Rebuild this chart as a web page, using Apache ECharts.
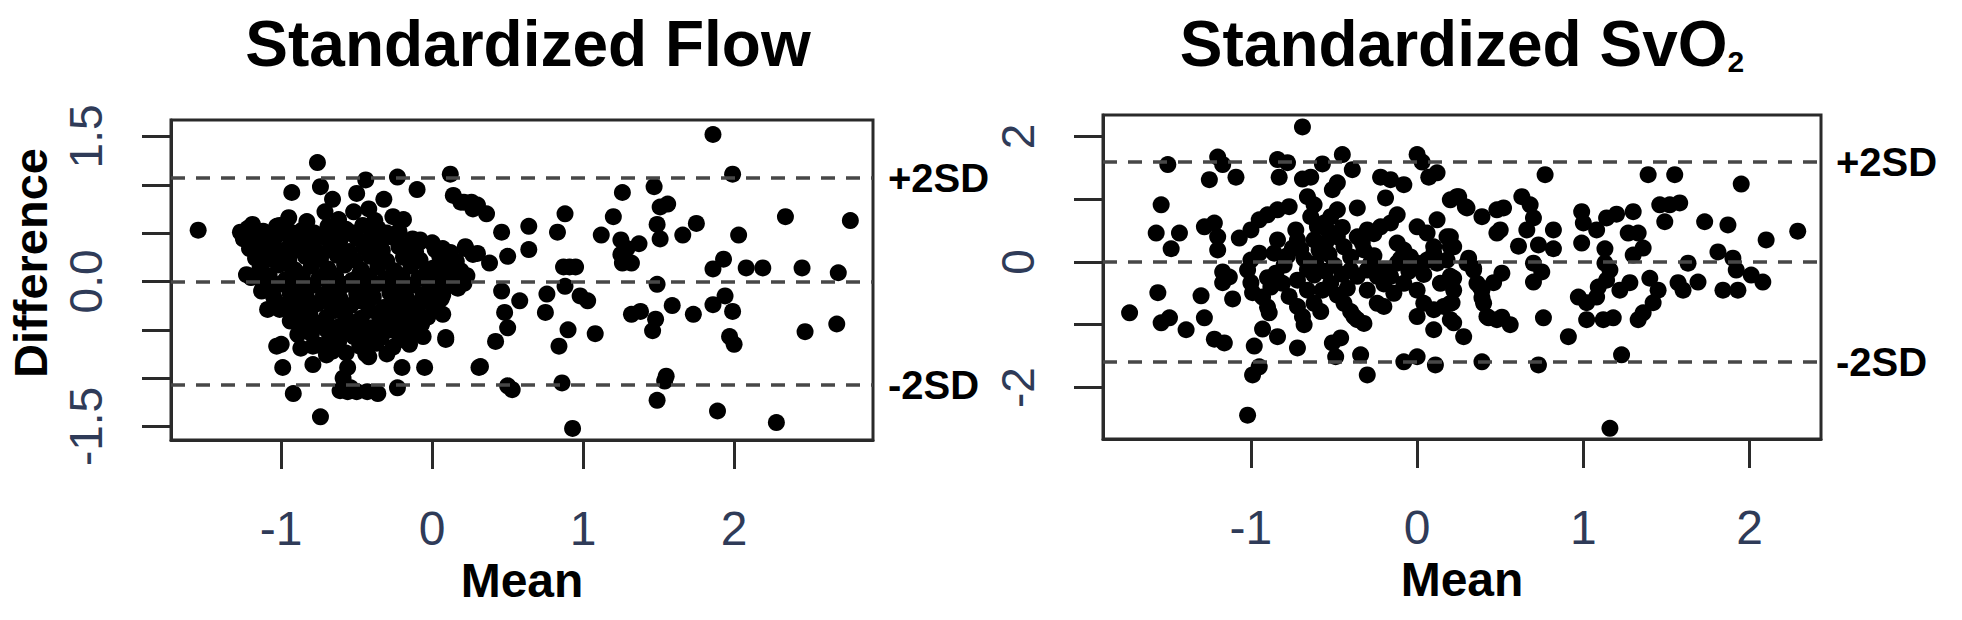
<!DOCTYPE html>
<html>
<head>
<meta charset="utf-8">
<script src="https://cdn.jsdelivr.net/npm/echarts@6/dist/echarts.min.js"></script>
<style>
  html, body { margin: 0; padding: 0; background: #fff; }
  #chart { width: 1962px; height: 620px; }
</style>
</head>
<body>
<div id="chart"></div>
<script>
// Bland-Altman points [mean, difference]
var flowPoints = [
  [-1.55,0.53],[-0.76,1.23],[-0.74,-1.40],[-0.92,-1.16],[-0.99,-0.89],[-1.23,0.07],[-1.13,-0.10],[-1.09,-0.29],
  [-1.01,-0.29],[-1.27,0.51],[-1.19,0.59],[-1.01,0.58],[-1.07,0.43],[-0.93,0.92],[-0.74,0.98],[-0.66,0.85],
  [-0.71,0.72],[-0.50,0.91],[-0.44,1.05],[-0.42,0.75],[-0.32,0.85],[-0.23,1.08],[-0.26,0.67],[-0.19,0.64],
  [-0.10,0.95],[0.12,1.11],[0.14,0.89],[0.21,0.82],[0.27,0.75],[-0.08,0.43],[0.07,0.34],[0.22,0.34],[0.27,0.28],
  [-1.03,-0.67],[-0.89,-0.55],[-0.94,-0.41],[-0.87,-0.69],[-0.79,-0.67],[-0.79,-0.86],[-0.66,-0.72],[-0.56,-0.89],
  [-0.59,-1.0],[-0.54,-1.10],[-0.61,-1.13],[-0.56,-1.14],[-0.50,-1.14],[-0.43,-1.14],[-0.36,-1.16],[-0.52,-0.57],
  [-0.44,-0.75],[-0.34,-0.58],[-0.23,-1.10],[-0.20,-0.89],[-0.05,-0.89],[-0.06,-0.57],[0.09,-0.60],[0.07,-0.34],
  [0.31,-0.89],[-0.17,-0.38],[-0.30,-0.51],
  [-0.83,0.62],[-0.79,0.48],[-0.59,0.48],[-0.52,0.72],[-0.40,0.49],[-0.34,0.41],[-0.21,0.38],[-0.08,0.41],
  [0.01,0.14],[0.10,0.24],[0.14,0.0],[0.21,-0.02],[0.05,-0.14],[-0.08,-0.21],
  [-1.20,0.57],[-1.25,0.44],[-1.03,0.57],[-1.0,-0.65],
  // dense core
  [-1.22,0.55],[-1.12,0.52],[-0.97,0.56],[-0.86,0.53],[-0.69,0.57],[-0.57,0.54],[-0.46,0.58],[-0.36,0.55],[-0.22,0.52],
  [-1.24,0.45],[-1.15,0.42],[-1.04,0.46],[-0.94,0.44],[-0.83,0.41],[-0.72,0.46],[-0.61,0.43],[-0.50,0.45],[-0.39,0.42],[-0.27,0.46],[-0.13,0.44],[0.0,0.40],
  [-1.21,0.34],[-1.10,0.36],[-0.99,0.32],[-0.89,0.37],[-0.78,0.33],[-0.67,0.36],[-0.55,0.31],[-0.45,0.35],[-0.33,0.32],[-0.22,0.36],[-0.11,0.31],[0.02,0.33],[0.12,0.30],
  [-1.17,0.24],[-1.06,0.27],[-0.95,0.22],[-0.84,0.26],[-0.74,0.23],[-0.63,0.27],[-0.51,0.22],[-0.41,0.26],[-0.30,0.21],[-0.19,0.25],[-0.08,0.22],[0.05,0.26],[0.16,0.21],
  [-1.14,0.14],[-1.02,0.17],[-0.91,0.12],[-0.80,0.16],[-0.69,0.13],[-0.58,0.17],[-0.47,0.12],[-0.36,0.15],[-0.25,0.11],[-0.14,0.16],[-0.03,0.12],[0.08,0.15],[0.19,0.11],
  [-1.20,0.04],[-1.08,0.06],[-0.97,0.02],[-0.86,0.07],[-0.75,0.03],[-0.64,0.06],[-0.53,0.01],[-0.42,0.05],[-0.31,0.02],[-0.20,0.06],[-0.09,0.03],[0.02,0.05],[0.13,0.02],[0.23,0.06],
  [-1.12,-0.06],[-1.01,-0.03],[-0.90,-0.07],[-0.79,-0.04],[-0.68,-0.08],[-0.57,-0.03],[-0.46,-0.06],[-0.35,-0.02],[-0.24,-0.07],[-0.13,-0.04],[-0.02,-0.08],[0.10,-0.05],
  [-1.05,-0.16],[-0.94,-0.13],[-0.83,-0.17],[-0.72,-0.14],[-0.61,-0.18],[-0.50,-0.13],[-0.39,-0.16],[-0.28,-0.12],[-0.17,-0.17],[-0.06,-0.14],[0.06,-0.18],
  [-0.98,-0.24],[-0.87,-0.27],[-0.76,-0.23],[-0.64,-0.28],[-0.54,-0.25],[-0.43,-0.22],[-0.32,-0.27],[-0.21,-0.24],[-0.10,-0.28],[0.01,-0.25],
  [-0.92,-0.36],[-0.81,-0.33],[-0.70,-0.37],[-0.58,-0.34],[-0.47,-0.38],[-0.36,-0.33],[-0.25,-0.36],[-0.14,-0.32],[-0.03,-0.37],
  [-0.86,-0.46],[-0.74,-0.43],[-0.62,-0.47],[-0.51,-0.44],[-0.40,-0.48],[-0.29,-0.43],[-0.18,-0.46],[-0.07,-0.44],
  [-0.80,-0.54],[-0.66,-0.57],[-0.55,-0.53],[-0.44,-0.56],[-0.33,-0.52],[-0.22,-0.55],[-0.12,-0.53],
  [-0.75,-0.66],[-0.62,-0.63],[-0.48,-0.67],[-0.37,-0.64],[-0.26,-0.68],[-0.15,-0.65],
  [-0.70,-0.76],[-0.57,-0.74],[-0.42,-0.78],[-0.30,-0.75],
  [-1.17,0.50],[-1.07,0.50],[-0.92,0.50],[-0.78,0.50],[-0.64,0.50],[-0.52,0.50],[-0.30,0.50],
  [-1.16,0.30],[-1.04,0.30],[-0.94,0.29],[-0.73,0.29],[-0.61,0.31],[-0.39,0.30],[-0.17,0.30],[0.07,0.30],
  [-1.12,0.20],[-0.99,0.19],[-0.79,0.20],[-0.57,0.21],[-0.35,0.20],[-0.13,0.20],[0.11,0.19],
  [-1.15,0.09],[-0.92,0.09],[-0.70,0.09],[-0.48,0.08],[-0.26,0.08],[-0.04,0.08],[0.18,0.08],
  [-1.06,-0.10],[-0.84,-0.10],[-0.62,-0.10],[-0.40,-0.10],[-0.18,-0.10],[0.04,-0.10],
  [-0.92,-0.20],[-0.70,-0.20],[-0.48,-0.20],[-0.26,-0.20],[-0.04,-0.20],
  [-0.86,-0.30],[-0.64,-0.30],[-0.42,-0.30],[-0.20,-0.30],
  [-0.80,-0.40],[-0.56,-0.40],[-0.34,-0.40],[-0.12,-0.40],
  [-0.70,-0.50],[-0.50,-0.50],[-0.27,-0.50],
  [-0.68,-0.60],[-0.43,-0.60],[-0.20,-0.60],
  [-0.95,0.66],[-0.62,0.64],[-0.38,0.63],
  // right-hand scatter
  [0.19,0.82],[0.26,0.82],[0.30,0.79],[0.36,0.70],[0.46,0.51],[0.64,0.57],[0.88,0.70],[0.83,0.51],[0.64,0.33],
  [0.50,0.26],[0.22,0.36],[0.30,0.29],[0.38,0.19],[0.09,0.21],[0.07,0.10],[0.10,-0.03],[0.17,-0.07],[0.07,-0.14],
  [0.09,-0.58],[0.46,-0.10],[0.58,-0.20],[0.48,-0.32],[0.50,-0.48],[0.42,-0.62],[0.32,-0.88],[0.50,-1.08],[0.53,-1.12],
  [0.87,0.15],[0.91,0.15],[0.95,0.15],[0.88,-0.05],[0.76,-0.13],[0.75,-0.32],[0.98,-0.15],[1.03,-0.20],[0.90,-0.50],
  [0.84,-0.67],[1.08,-0.54],[0.86,-1.05],[0.93,-1.52],[1.12,0.48],[1.20,0.67],[1.26,0.92],[1.25,0.43],[1.29,0.34],
  [1.37,0.39],[1.25,0.28],[1.26,0.19],[1.32,0.19],[1.47,0.98],[1.51,0.77],[1.56,0.80],[1.49,0.59],[1.51,0.44],
  [1.66,0.48],[1.75,0.60],[1.49,-0.03],[1.32,-0.34],[1.38,-0.31],[1.48,-0.39],[1.46,-0.51],[1.59,-0.25],[1.73,-0.34],
  [1.55,-0.98],[1.54,-1.03],[1.49,-1.23],[1.86,1.52],[1.99,1.11],[2.03,0.48],[1.86,0.13],[1.93,0.23],[1.86,-0.24],
  [1.94,-0.15],[1.99,-0.31],[1.97,-0.57],[2.0,-0.65],[1.89,-1.34],
  [2.34,0.67],[2.19,0.14],[2.45,0.14],[2.69,0.09],[2.77,0.63],[2.47,-0.52],[2.68,-0.44],[2.28,-1.46],[2.08,0.14]
];
var flowLimits = [1.07, 0, -1.07];

var svo2Points = [
  [-0.69,2.15],[-1.50,1.55],[-1.20,1.67],[-1.17,1.55],[-1.25,1.31],[-1.09,1.35],[-0.84,1.63],[-0.78,1.58],[-0.83,1.35],
  [-0.69,1.32],[-0.64,1.35],[-0.57,1.56],[-0.45,1.71],[-0.39,1.47],[-0.48,1.26],[-0.51,1.15],[-0.22,1.35],[-0.16,1.31],
  [-0.08,1.23],[0.0,1.71],[0.03,1.59],[0.07,1.35],[0.12,1.42],[-0.19,1.02],[-0.36,0.86],[-0.12,0.75],[0.20,0.99],
  [0.25,1.04],[0.30,0.86],[0.39,0.72],[-1.54,0.91],[-1.57,0.46],[-1.43,0.46],[-1.48,0.21],[-1.28,0.56],[-1.22,0.62],
  [-1.20,0.40],[-1.20,0.19],[-1.07,0.38],[-1.0,0.51],[-0.95,0.67],[-0.90,0.75],[-0.84,0.83],[-0.77,0.88],[-0.73,0.51],
  [-0.72,0.35],[-0.84,0.35],[-0.86,0.14],[-0.95,0.14],[-1.0,0.03],[-1.02,-0.13],[-1.17,-0.16],[-1.17,-0.33],[-1.13,-0.24],
  [-1.56,-0.49],[-1.30,-0.54],[-1.11,-0.59],[-1.0,-0.33],[-0.99,-0.49],[-0.93,-0.56],[-0.90,-0.72],[-0.89,-0.81],
  [-1.54,-0.97],[-1.49,-0.89],[-1.39,-1.08],[-1.28,-0.89],[-1.22,-1.23],[-1.16,-1.29],[-0.93,-1.07],[-0.84,-1.19],
  [-0.98,-1.34],[-0.95,-1.67],[-0.99,-1.80],[-1.02,-2.44],[-0.72,-1.37],[-0.51,-1.29],[-0.46,-1.21],[-0.49,-1.51],
  [-0.34,-1.48],[-0.30,-1.80],[-0.08,-1.59],[0.0,-1.51],[0.11,-1.64],[0.39,-1.59],[-1.73,-0.81],
  // dense middle
  [-0.85,-0.18],[-0.81,-0.34],[-0.77,-0.55],[-0.72,-0.71],[-0.69,-0.87],[-0.68,-1.0],
  [-0.72,-0.29],[-0.66,-0.45],[-0.62,-0.66],[-0.58,-0.79],
  [-0.66,1.04],[-0.62,0.91],[-0.64,0.72],[-0.60,0.56],[-0.62,0.35],[-0.59,0.19],[-0.61,-0.02],[-0.62,-0.21],
  [-0.54,0.51],[-0.48,0.40],[-0.44,0.24],[-0.40,0.08],[-0.52,0.72],[-0.48,0.83],
  [-0.52,-0.34],[-0.48,-0.53],[-0.44,-0.66],[-0.40,-0.79],[-0.36,-0.92],[-0.38,-0.87],[-0.32,-0.98],
  [-0.36,0.40],[-0.32,0.19],[-0.28,-0.02],[-0.24,-0.23],
  [-0.30,0.51],[-0.22,0.56],[-0.16,0.62],
  [-0.40,-0.13],[-0.36,-0.23],[-0.30,-0.45],[-0.24,-0.66],[-0.20,-0.71],
  [-0.30,-0.13],[-0.20,-0.13],[-0.12,-0.02],[-0.08,0.19],[-0.04,0.08],[0.0,-0.02],[0.06,0.03],[0.10,0.14],
  [-0.16,-0.23],[-0.08,-0.34],[-0.12,0.30],
  [0.0,0.56],[0.06,0.46],[0.12,0.67],[0.10,0.24],
  [0.18,0.40],[0.20,0.24],[0.18,0.03],[0.12,-0.02],
  [0.30,-0.02],[0.34,-0.13],[0.36,-0.34],[0.39,-0.45],[0.40,-0.66],
  [0.0,-0.45],[0.04,-0.66],[0.10,-0.76],[0.16,-0.71],[0.20,-0.66],[0.22,-0.45],[0.14,-0.34],[0.20,-0.23],
  [0.0,-0.87],[0.10,-1.08],[0.20,-0.92],[0.28,-1.19],
  [0.42,-0.87],[0.48,-0.92],[0.48,0.83],[0.48,0.46],
  [-0.70,0.20],[-0.68,0.05],[-0.66,-0.12],[-0.56,0.62],[-0.55,0.30],[-0.53,0.12],[-0.50,-0.05],[-0.45,-0.20],
  [-0.42,-0.42],[-0.55,-0.15],[-0.57,-0.45],[-0.33,0.30],[-0.26,0.10],[-0.20,-0.35],[-0.14,-0.50],[-0.10,0.05],
  [-0.05,-0.15],[0.04,-0.20],[-0.26,0.45],[-0.45,0.55],[-0.78,0.10],[-0.80,-0.05],[-0.75,0.22],[-0.90,-0.25],[-0.88,-0.40],
  // right side
  [0.77,1.39],[1.39,1.39],[1.55,1.39],[1.95,1.24],[0.24,1.04],[0.29,0.88],[0.52,0.86],[0.50,0.51],[0.63,1.04],
  [0.68,0.91],[0.70,0.70],[0.66,0.51],[0.61,0.25],[0.73,0.27],[0.82,0.51],[0.82,0.21],[0.20,0.40],[0.22,0.24],
  [0.31,0.06],[0.34,-0.10],[0.22,-0.26],[0.21,-0.65],[0.22,-0.97],[0.38,-0.40],[0.39,-0.57],[0.46,-0.33],[0.51,-0.18],
  [0.43,-0.89],[0.51,-0.88],[0.56,-1.0],[0.73,-1.64],[0.70,-0.02],[0.75,-0.16],[0.70,-0.32],[0.76,-0.89],[0.91,-1.19],
  [0.99,0.80],[1.0,0.62],[0.99,0.30],[1.08,0.51],[1.14,0.70],[1.20,0.76],[1.30,0.80],[1.13,0.21],[1.27,0.46],
  [1.33,0.46],[1.30,0.11],[1.36,0.22],[1.46,0.91],[1.52,0.91],[1.58,0.94],[1.49,0.64],[1.73,0.64],[1.87,0.59],
  [2.10,0.35],[2.29,0.49],[1.63,-0.02],[1.81,0.16],[1.90,0.06],[1.92,-0.13],[2.01,-0.21],[2.08,-0.32],[1.84,-0.45],
  [1.93,-0.45],[1.57,-0.33],[1.60,-0.45],[1.69,-0.32],[1.40,-0.26],[1.45,-0.45],[1.42,-0.65],[1.36,-0.81],[1.33,-0.92],
  [1.28,-0.33],[1.22,-0.45],[1.14,-0.29],[1.09,-0.40],[1.08,-0.56],[1.16,-0.13],[1.13,-0.02],[0.97,-0.56],[1.02,-0.65],
  [1.02,-0.92],[1.12,-0.92],[1.18,-0.89],[1.23,-1.48],[1.16,-2.65]
];
var svo2Limits = [1.59, 0, -1.59];

var xTicks = [-1, 0, 1, 2];
var flowYTicks = [-1.5, -1, -0.5, 0, 0.5, 1, 1.5];
var flowYLabels = [-1.5, 0, 1.5];
var svo2YTicks = [-2, -1, 0, 1, 2];
var svo2YLabels = [-2, 0, 2];

var FONT = '"Liberation Sans", Arial, Helvetica, sans-serif';
var axisCol = '#2a2a2a';
var tickCol = '#2f3b58';

function xAxisOpt(idx, min, max) {
  return {
    gridIndex: idx, type: 'value', min: min, max: max,
    axisLine: { show: true, onZero: false, lineStyle: { color: axisCol, width: 3 } },
    axisTick: { show: true, length: 29, customValues: xTicks, lineStyle: { color: axisCol, width: 3 } },
    axisLabel: { customValues: xTicks, fontSize: 48, fontFamily: FONT, color: tickCol, margin: 64 },
    splitLine: { show: false },
    name: 'Mean', nameLocation: 'middle', nameGap: 110,
    nameTextStyle: { fontSize: 48, fontWeight: 'bold', fontFamily: FONT, color: '#000' }
  };
}

function yAxisOpt(idx, min, max, ticks, labels, digits) {
  return {
    gridIndex: idx, type: 'value', min: min, max: max,
    axisLine: { show: true, onZero: false, lineStyle: { color: axisCol, width: 3 } },
    axisTick: { show: true, length: 29, customValues: ticks, lineStyle: { color: axisCol, width: 3 } },
    axisLabel: {
      customValues: labels, rotate: 90, fontSize: 46, fontFamily: FONT, color: tickCol, margin: 62,
      formatter: function (v) { return Number(v).toFixed(digits); }
    },
    splitLine: { show: false }
  };
}

function limitLines(lims) {
  var names = ['+2SD', '', '-2SD'];
  return {
    silent: true, symbol: 'none',
    lineStyle: { type: [14, 11], color: '#474747', width: 3.5 },
    label: {
      show: true, position: 'end', distance: 15,
      fontSize: 40, fontWeight: 'bold', fontFamily: FONT, color: '#000',
      formatter: function (p) { return names[p.dataIndex]; }
    },
    data: lims.map(function (v) { return { yAxis: v }; })
  };
}

var chart = echarts.init(document.getElementById('chart'), null, { renderer: 'svg' });
chart.setOption({
  backgroundColor: '#fff',
  animation: false,
  grid: [
    { left: 171, top: 120, width: 702, height: 320, show: true, borderColor: axisCol, borderWidth: 3,
      containLabel: false, outerBoundsMode: 'none' },
    { left: 1103, top: 115, width: 718, height: 324, show: true, borderColor: axisCol, borderWidth: 3,
      containLabel: false, outerBoundsMode: 'none' }
  ],
  xAxis: [ xAxisOpt(0, -1.73, 2.92), xAxisOpt(1, -1.89, 2.43) ],
  yAxis: [
    yAxisOpt(0, -1.64, 1.67, flowYTicks, flowYLabels, 1),
    yAxisOpt(1, -2.82, 2.34, svo2YTicks, svo2YLabels, 0)
  ],
  graphic: [
    { type: 'text', x: 528, y: 44,
      style: { text: 'Standardized Flow', font: 'bold 64px ' + FONT, fill: '#000', align: 'center', verticalAlign: 'middle' } },
    { type: 'text', x: 1462, y: 44,
      style: { text: '{t|Standardized SvO}{s|2}', align: 'center', verticalAlign: 'middle',
        rich: {
          t: { font: 'bold 64px ' + FONT, fill: '#000' },
          s: { font: 'bold 30px ' + FONT, fill: '#000', verticalAlign: 'bottom' }
        } } },
    { type: 'text', x: 30, y: 263, rotation: Math.PI / 2,
      style: { text: 'Difference', font: 'bold 47px ' + FONT, fill: '#000', align: 'center', verticalAlign: 'middle' } }
  ],
  series: [
    { type: 'scatter', xAxisIndex: 0, yAxisIndex: 0, symbolSize: 17,
      itemStyle: { color: '#000', opacity: 1 }, data: flowPoints, markLine: limitLines(flowLimits) },
    { type: 'scatter', xAxisIndex: 1, yAxisIndex: 1, symbolSize: 17,
      itemStyle: { color: '#000', opacity: 1 }, data: svo2Points, markLine: limitLines(svo2Limits) }
  ]
});
</script>
</body>
</html>
